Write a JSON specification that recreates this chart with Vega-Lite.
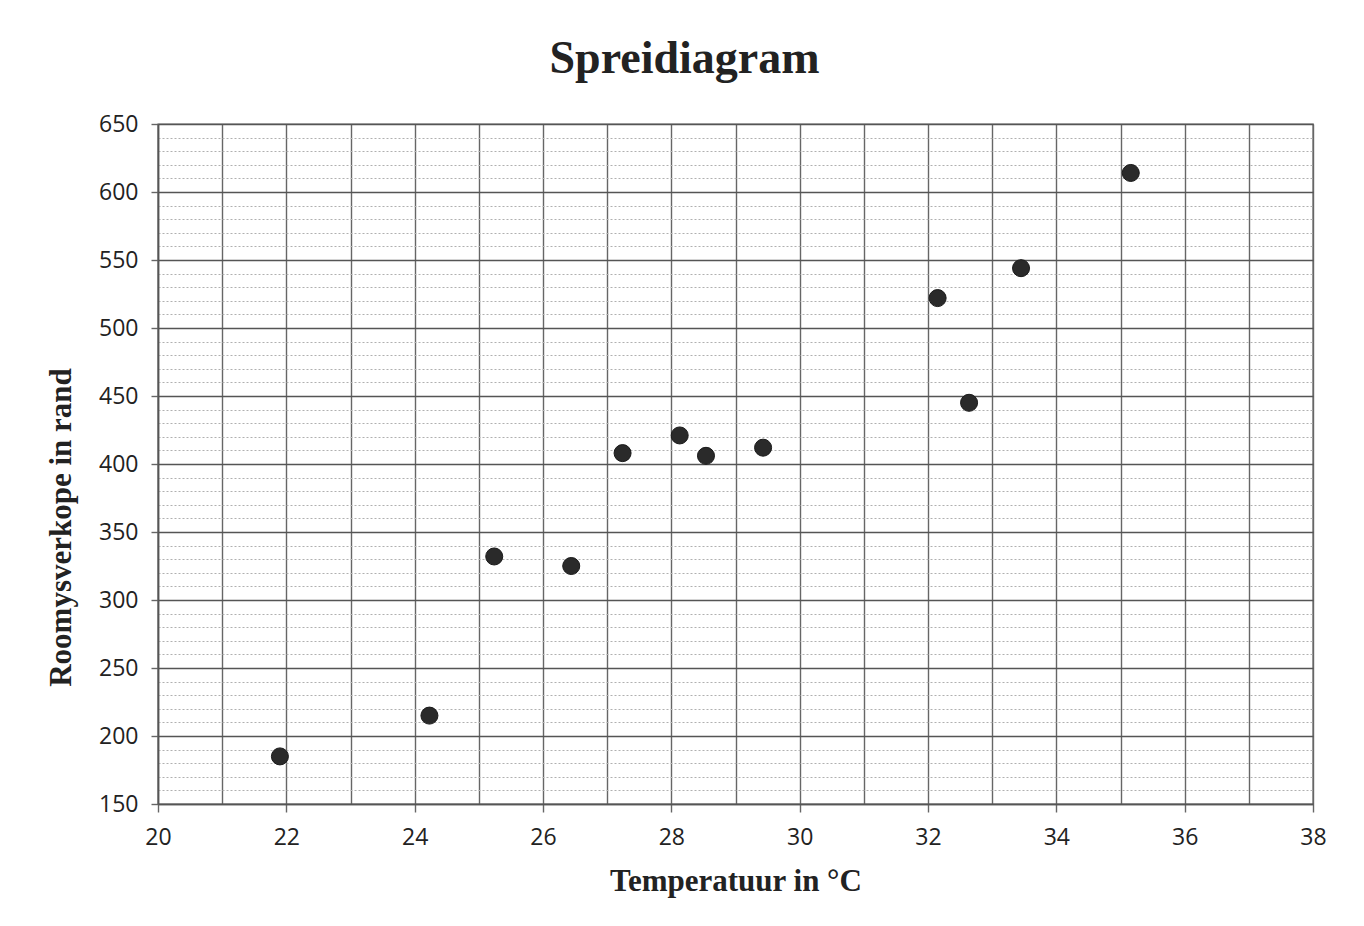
{
  "$schema": "https://vega.github.io/schema/vega-lite/v6.json",
  "autosize": "none",
  "width": 1155,
  "height": 680,
  "padding": {"left": 158, "top": 124, "right": 51, "bottom": 122},
  "background": "white",
  "title": {
    "text": "Spreidiagram",
    "font": "Liberation Serif",
    "fontSize": 46,
    "fontWeight": "bold",
    "color": "#222222",
    "anchor": "middle",
    "frame": "group",
    "baseline": "alphabetic",
    "offset": 52,
    "dx": -51,
    "dy": 58
  },
  "data": {
    "values": [
      {"temp": 21.9, "sales": 185},
      {"temp": 24.23, "sales": 215},
      {"temp": 25.24, "sales": 332},
      {"temp": 26.44, "sales": 325},
      {"temp": 27.24, "sales": 408},
      {"temp": 28.13, "sales": 421},
      {"temp": 28.54, "sales": 406},
      {"temp": 29.43, "sales": 412},
      {"temp": 32.15, "sales": 522},
      {"temp": 32.64, "sales": 445},
      {"temp": 33.45, "sales": 544},
      {"temp": 35.16, "sales": 614}
    ]
  },
  "mark": {"type": "circle", "size": 290, "color": "#2a2a2a", "opacity": 1, "stroke": "#1a1a1a", "strokeWidth": 1},
  "encoding": {
    "x": {
      "field": "temp",
      "type": "quantitative",
      "scale": {"domain": [20, 38], "nice": false, "zero": false},
      "axis": {
        "title": "Temperatuur in °C",
        "titleFont": "Liberation Serif",
        "titleFontSize": 31,
        "titleFontWeight": "bold",
        "titleColor": "#222222",
        "titleBaseline": "alphabetic",
        "titleY": 86,
        "values": [20,21,22,23,24,25,26,27,28,29,30,31,32,33,34,35,36,37,38],
        "labelExpr": "datum.value % 2 === 0 ? datum.label : ''",
        "labelFont": "Open Sans",
        "labelFontSize": 23,
        "labelColor": "#222222",
        "labelPadding": 14,
        "labelFlush": false,
        "labelOverlap": false,
        "grid": true,
        "gridColor": "#666666",
        "gridWidth": 1.4,
        "ticks": true,
        "tickSize": 8,
        "tickColor": "#666666",
        "tickWidth": 1.4,
        "tickOpacity": {"condition": {"test": "datum.value % 2 === 0", "value": 1}, "value": 0},
        "domainColor": "#555555",
        "domainWidth": 1.6
      }
    },
    "y": {
      "field": "sales",
      "type": "quantitative",
      "scale": {"domain": [150, 650], "nice": false, "zero": false},
      "axis": {
        "title": "Roomysverkope in rand",
        "titleFont": "Liberation Serif",
        "titleFontSize": 31,
        "titleFontWeight": "bold",
        "titleColor": "#222222",
        "titleAngle": -90,
        "titleAlign": "center",
        "titleBaseline": "alphabetic",
        "titleX": -88,
        "titleY": 403,
        "values": [150,160,170,180,190,200,210,220,230,240,250,260,270,280,290,300,310,320,330,340,350,360,370,380,390,400,410,420,430,440,450,460,470,480,490,500,510,520,530,540,550,560,570,580,590,600,610,620,630,640,650],
        "labelExpr": "datum.value % 50 === 0 ? datum.label : ''",
        "labelFont": "Open Sans",
        "labelFontSize": 23,
        "labelColor": "#222222",
        "labelPadding": 13,
        "labelFlush": false,
        "labelOverlap": false,
        "grid": true,
        "gridColor": {"condition": {"test": "datum.value % 50 === 0", "value": "#555555"}, "value": "#b0b0b0"},
        "gridWidth": {"condition": {"test": "datum.value % 50 === 0", "value": 1.6}, "value": 1},
        "gridDash": {"condition": {"test": "datum.value % 50 === 0", "value": []}, "value": [2, 2]},
        "ticks": true,
        "tickSize": 7,
        "tickColor": "#666666",
        "tickWidth": 1.4,
        "tickOpacity": {"condition": {"test": "datum.value % 50 === 0", "value": 1}, "value": 0},
        "domainColor": "#555555",
        "domainWidth": 1.6
      }
    }
  },
  "config": {
    "view": {"stroke": "#666666", "strokeWidth": 1.4}
  }
}
